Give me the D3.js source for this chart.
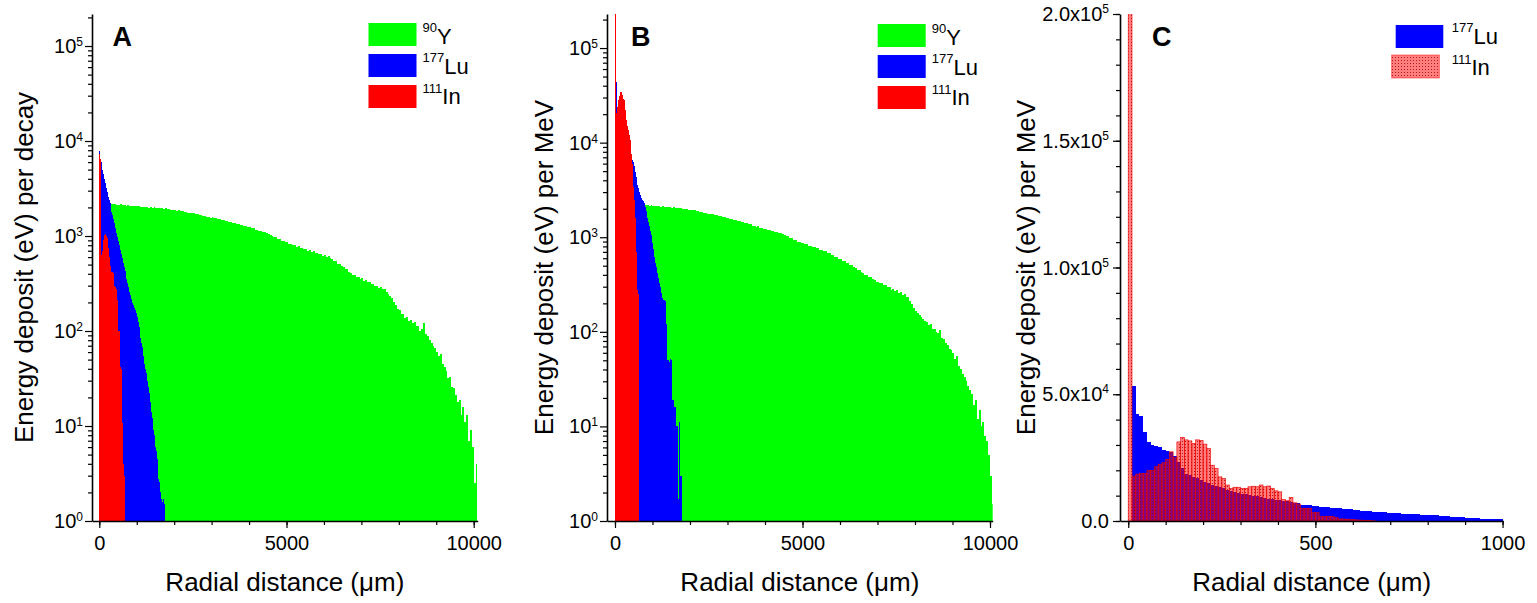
<!DOCTYPE html>
<html><head><meta charset="utf-8">
<script src="https://cdn.jsdelivr.net/npm/d3@7"></script>
<style>
body{margin:0;background:#fff}
text{font-family:"Liberation Sans",Arial,sans-serif;fill:#000}
</style>
</head><body>
<svg id="c" width="1537" height="603"></svg>
<script>
// ---------------- data ----------------
const isotopeMass = ["90", "177", "111"];
const isotopeSymbol = ["Y", "Lu", "In"];
const panelLetters = ["A", "B", "C"];
const yTitles = ["Energy deposit (eV) per decay", "Energy deposit (eV) per MeV", "Energy deposit (eV) per MeV"];
const xTitle = "Radial distance (\u03bcm)";
const logExponents = [0, 1, 2, 3, 4, 5];
const xTicksAB = [0, 5000, 10000];
const xTicksC = [0, 500, 1000];
const yTicksC = [0, 50000, 100000, 150000, 200000];
const yTickMantissaC = ["0.0", "5.0x10", "1.0x10", "1.5x10", "2.0x10"];
const yTickExpC = ["", "4", "5", "5", "5"];

// bin widths (um)
const binY90 = 50, binAB = 25, binC = 10;

// Panel A : per decay
const y90A = [2240,2210,2250,2190,2200,2170,2190,2150,2170,2140,
2130,2160,2110,2120,2080,2110,2070,2090,2050,2070,
2050,2060,2020,2040,2010,2040,1990,2020,1980,2000,
1970,1990,1950,1970,1940,1950,1910,1930,1900,1880,
1880,1850,1860,1820,1820,1790,1800,1760,1760,1730,
1730,1700,1710,1660,1670,1630,1630,1600,1600,1560,
1570,1530,1530,1500,1500,1460,1470,1430,1430,1400,
1390,1360,1370,1330,1330,1300,1300,1260,1270,1230,
1240,1200,1200,1170,1170,1140,1140,1100,1110,1070,
1050,1020,1010,970,970,930,930,890,890,860,
860,830,830,800,800,770,780,750,750,730,
730,700,710,680,690,660,670,640,650,620,
630,600,610,580,570,540,540,510,510,480,
470,450,450,420,410,390,390,370,370,350,
360,340,345,325,330,310,315,295,300,285,
290,275,280,255,245,235,225,200,190,170,
165,150,150,138,140,128,132,122,125,112,
112,100,104,120,92,88,80,74,70,66,
60,54,57,45,42,38,32,33,26,25,
21,18,19,13,16,11,13,7,9,6,
2.5,4];
const lu177A = [7800,6500,6000,5000,4500,4000,3600,3200,2900,2600,
2400,2200,2000,1800,1650,1500,1380,1200,1080,980,
880,800,720,650,580,520,470,430,390,350,
320,294,260,240,215,195,190,175,165,155,
140,125,110,95,85,75,68,55,45,40,
36,30,26,22,18,14,12,9,8,7,
6,5.5,4.5,2.8,2.6,2.0,1.7,1.6,1.7,1.5];
const in111A = [7300,6500,630,700,900,1020,1050,1000,950,750,
600,480,430,420,420,410,300,290,280,210,
100,100,42,40,10.7,4,3];

// Panel B : per MeV
const y90B = [2330,2300,2340,2290,2310,2270,2300,2260,2280,2250,
2240,2270,2220,2240,2190,2220,2170,2200,2150,2170,
2150,2160,2120,2140,2100,2130,2080,2110,2070,2090,
2060,2080,2040,2050,2020,2030,1990,2010,1970,1960,
1950,1920,1930,1890,1880,1850,1860,1820,1820,1780,
1780,1750,1750,1710,1710,1670,1680,1640,1630,1600,
1600,1560,1560,1520,1520,1480,1490,1450,1440,1410,
1400,1370,1370,1330,1330,1290,1300,1260,1260,1220,
1230,1190,1190,1160,1160,1130,1130,1100,1100,1070,
1060,1030,1020,980,980,940,940,900,900,870,
870,840,840,810,810,790,790,770,770,740,
740,710,710,680,680,650,650,620,620,590,
590,560,560,540,530,510,510,480,470,450,
450,430,420,400,400,380,380,360,350,340,
340,330,330,310,310,295,300,280,285,270,
275,260,262,248,250,236,232,210,195,178,
168,158,152,142,138,130,128,118,120,108,
106,100,96,104,86,84,76,72,66,64,
60,52,55,44,40,36,33,30,27,24,
22,17,19,12,15,10,11,8,7,5,
3,1.5];
const lu177B = [55000,44000,23000,26000,29000,29000,27000,25000,22000,19000,
16000,14000,13000,11500,10000,9000,8000,7200,6600,6200,
5600,4900,4300,4000,3600,3300,3000,2800,2600,2500,
2400,2300,2100,1900,1600,1450,1300,1150,1050,950,
870,750,620,540,490,420,370,330,300,260,
230,216,216,210,120,82,50,50,48,52,
50,19,19,16,16,10,10,1.7,11,3,3];
const in111B = [300000,20500,24000,28000,31000,34000,34500,33500,32000,29000,
28000,22000,17400,15000,13500,12000,10700,7500,6000,3400,
2500,1600,700,330,280,250];

// Panel C : per MeV, linear, 10 um bins
const lu177C = [0,53100,42400,41300,35200,31100,29900,29500,29100,28100,
27800,27400,25500,23300,21100,18500,18100,17500,16800,16100,
15500,14800,14200,13800,13500,12900,12200,11800,11300,10900,
10600,10600,10300,10000,9700,9400,9100,8800,8500,8300,
8100,7900,7700,7500,7200,7000,6400,6300,6300,6000,
6000,5500,5400,5400,5300,5000,5000,4700,4600,4600,
4500,4200,4100,4000,3800,3700,3700,3500,3400,3300,
3200,3100,3000,2950,2850,2750,2700,2600,2500,2450,
2400,2250,2200,2050,2000,1950,1700,1500,1450,1400,
1250,1200,1150,1000,950,900,850,800,800,750];
const in111C = [300000,17700,18500,18800,18800,20000,20000,21400,22400,23000,
24300,27300,25000,31200,33000,32000,31600,30600,32000,31800,
30300,28600,22000,20700,17400,16800,14200,12900,13300,13300,
12900,12900,13500,13700,13500,14200,13500,13800,12900,11900,
11500,8500,8000,9300,7200,6700,5000,5000,5000,3300,
3300,1700,1700,1800,1800,1300,800,800,700,600,
500,400,300,200,150,100];

// ---------------- drawing ----------------
const svg = d3.select("#c");
const defs = svg.append("defs");
const TOP = 14, BOTTOM = 521;
const GREEN = "#00ff00", BLUE = "#0000ff", RED = "#ff0000";

const pat = defs.append("pattern").attr("id", "inDots")
  .attr("patternUnits", "userSpaceOnUse").attr("width", 3).attr("height", 3);
pat.append("rect").attr("width", 3).attr("height", 3).attr("fill", "rgba(255,10,10,0.52)");
pat.append("rect").attr("width", 1).attr("height", 1).attr("fill", "rgba(170,0,0,0.8)");

function bars(g, x, y, values, bw, fill, floorVal, extra) {
  const data = values.map((v, i) => ({v, i})).filter(d => d.v > floorVal);
  const sel = g.selectAll(null).data(data).join("rect")
    .attr("x", d => x(d.i * bw))
    .attr("width", d => x((d.i + 1) * bw) - x(d.i * bw))
    .attr("y", d => y(d.v))
    .attr("height", d => y(floorVal === 0 ? 0 : 1) - y(d.v))
    .attr("fill", fill);
  if (extra) extra(sel);
  return sel;
}

function styleAxis(a) {
  a.select(".domain").attr("stroke", "#000").attr("stroke-width", 1.6);
  a.selectAll(".tick line").attr("stroke", "#000").attr("stroke-width", 1.2);
}

function xAxis(g, x, majors, minors) {
  const a = g.append("g").attr("transform", `translate(0,${BOTTOM})`);
  a.call(d3.axisBottom(x).tickValues(majors).tickSize(7).tickSizeOuter(0).tickPadding(8).tickFormat(d3.format("d")));
  a.selectAll(".tick text").style("font-size", "20px").attr("font-family", null);
  styleAxis(a);
  const m = g.append("g").attr("transform", `translate(0,${BOTTOM})`);
  m.call(d3.axisBottom(x).tickValues(minors).tickSize(4).tickFormat(""));
  m.select(".domain").remove();
  styleAxis(m);
}

function yAxis(g, y, left, majors, minors) {
  const a = g.append("g").attr("transform", `translate(${left},0)`);
  a.call(d3.axisLeft(y).tickValues(majors).tickSize(7).tickSizeOuter(0).tickFormat(""));
  styleAxis(a);
  const m = g.append("g").attr("transform", `translate(${left},0)`);
  m.call(d3.axisLeft(y).tickValues(minors).tickSize(4).tickFormat(""));
  m.select(".domain").remove();
  styleAxis(m);
}

function supText(g, x, y, base, sup, anchor, size, supSize, raise) {
  const t = g.append("text").attr("x", x).attr("y", y).attr("text-anchor", anchor).style("font-size", size + "px");
  t.append("tspan").text(base);
  if (sup) t.append("tspan").attr("dy", -raise).style("font-size", supSize + "px").text(sup);
  return t;
}

function titles(g, idx, left, right, yTitleX, letterX) {
  g.append("text").attr("x", (left + right) / 2).attr("y", 591).attr("text-anchor", "middle")
    .style("font-size", "26px").text(xTitle);
  g.append("text").attr("transform", `translate(${yTitleX},${(TOP + BOTTOM) / 2}) rotate(-90)`)
    .attr("text-anchor", "middle").style("font-size", "26px").text(yTitles[idx]);
  g.append("text").attr("x", letterX).attr("y", 46).style("font-size", "27px").style("font-weight", "bold")
    .text(panelLetters[idx]);
}

function legend(g, items) {
  items.forEach(it => {
    g.append("rect").attr("x", it.x).attr("y", it.y).attr("width", it.w).attr("height", 23)
      .attr("fill", it.fill).attr("stroke", it.stroke || "none").attr("stroke-width", 0.8);
    const t = g.append("text").attr("x", it.tx).attr("y", it.ty);
    t.append("tspan").attr("dy", -11.5).style("font-size", "13px").text(isotopeMass[it.k]);
    t.append("tspan").attr("dy", 11.5).style("font-size", "22px").text(isotopeSymbol[it.k]);
  });
}

function logPanel(idx, cfg) {
  const g = svg.append("g");
  const x = d3.scaleLinear().domain(cfg.xDomain).range([cfg.left, cfg.right]);
  const y = d3.scaleLog().domain([1, cfg.yMax]).range([BOTTOM, TOP]);
  const cid = "clip" + idx;
  defs.append("clipPath").attr("id", cid).append("rect")
    .attr("x", cfg.left).attr("y", TOP).attr("width", cfg.right - cfg.left).attr("height", BOTTOM - TOP);
  const plot = g.append("g").attr("clip-path", `url(#${cid})`).attr("shape-rendering", "crispEdges");
  bars(plot.append("g"), x, y, cfg.y90, binY90, GREEN, 1);
  bars(plot.append("g"), x, y, cfg.lu, binAB, BLUE, 1);
  bars(plot.append("g"), x, y, cfg.inn, binAB, RED, 1);

  const minors = [];
  logExponents.forEach(k => { for (let m = 2; m <= 9; m++) { const v = m * Math.pow(10, k); if (v <= cfg.yMax) minors.push(v); } });
  yAxis(g, y, cfg.left, logExponents.map(k => Math.pow(10, k)), minors);
  logExponents.forEach(k => supText(g, cfg.left - 9, y(Math.pow(10, k)) + 7, "10", String(k), "end", 20, 12, 7));
  xAxis(g, x, xTicksAB, d3.range(0, 10001, 1000));
  titles(g, idx, cfg.left, cfg.right, cfg.yTitleX, cfg.letterX);
  legend(g, [
    {k: 0, x: cfg.legX, y: cfg.legY, w: 48, fill: GREEN, tx: cfg.legX + 54, ty: cfg.legY + 20.5},
    {k: 1, x: cfg.legX, y: cfg.legY + 31, w: 48, fill: BLUE, tx: cfg.legX + 54, ty: cfg.legY + 50.5},
    {k: 2, x: cfg.legX, y: cfg.legY + 62, w: 48, fill: RED, tx: cfg.legX + 54, ty: cfg.legY + 81}
  ]);
}

logPanel(0, {left: 92, right: 477.7, xDomain: [-195, 10107], yMax: Math.pow(10, 5.337),
  y90: y90A, lu: lu177A, inn: in111A, yTitleX: 33, letterX: 112.5, legX: 368.5, legY: 23});
logPanel(1, {left: 607, right: 992.7, xDomain: [-213, 10072], yMax: Math.pow(10, 5.36),
  y90: y90B, lu: lu177B, inn: in111B, yTitleX: 553, letterX: 631, legX: 877.7, legY: 24});

// Panel C
(function () {
  const idx = 2;
  const left = 1120, right = 1503.3;
  const g = svg.append("g");
  const x = d3.scaleLinear().domain([-22, 1002]).range([left, right]);
  const y = d3.scaleLinear().domain([0, 200000]).range([BOTTOM, TOP]);
  defs.append("clipPath").attr("id", "clip2").append("rect")
    .attr("x", left).attr("y", TOP).attr("width", right - left).attr("height", BOTTOM - TOP);
  const plot = g.append("g").attr("clip-path", "url(#clip2)");
  bars(plot.append("g").attr("shape-rendering", "crispEdges"), x, y, lu177C, binC, BLUE, 0);
  bars(plot.append("g"), x, y, in111C, binC, "url(#inDots)", 0,
    s => s.attr("stroke", "rgba(235,0,0,0.9)").attr("stroke-width", 0.7));
  yAxis(g, y, left, yTicksC, d3.range(0, 200001, 10000));
  yTicksC.forEach((v, i) => supText(g, left - 11, y(v) + 7, yTickMantissaC[i], yTickExpC[i], "end", 20, 12, 8));
  xAxis(g, x, xTicksC, d3.range(0, 1001, 100));
  titles(g, idx, left, right, 1035, 1152);
  legend(g, [
    {k: 1, x: 1395.7, y: 25, w: 47.6, fill: BLUE, tx: 1451.7, ty: 43.5},
    {k: 2, x: 1391.7, y: 55, w: 47.6, fill: "url(#inDots)", stroke: "rgba(255,0,0,0.6)", tx: 1451.7, ty: 75}
  ]);
})();
</script>
</body></html>
